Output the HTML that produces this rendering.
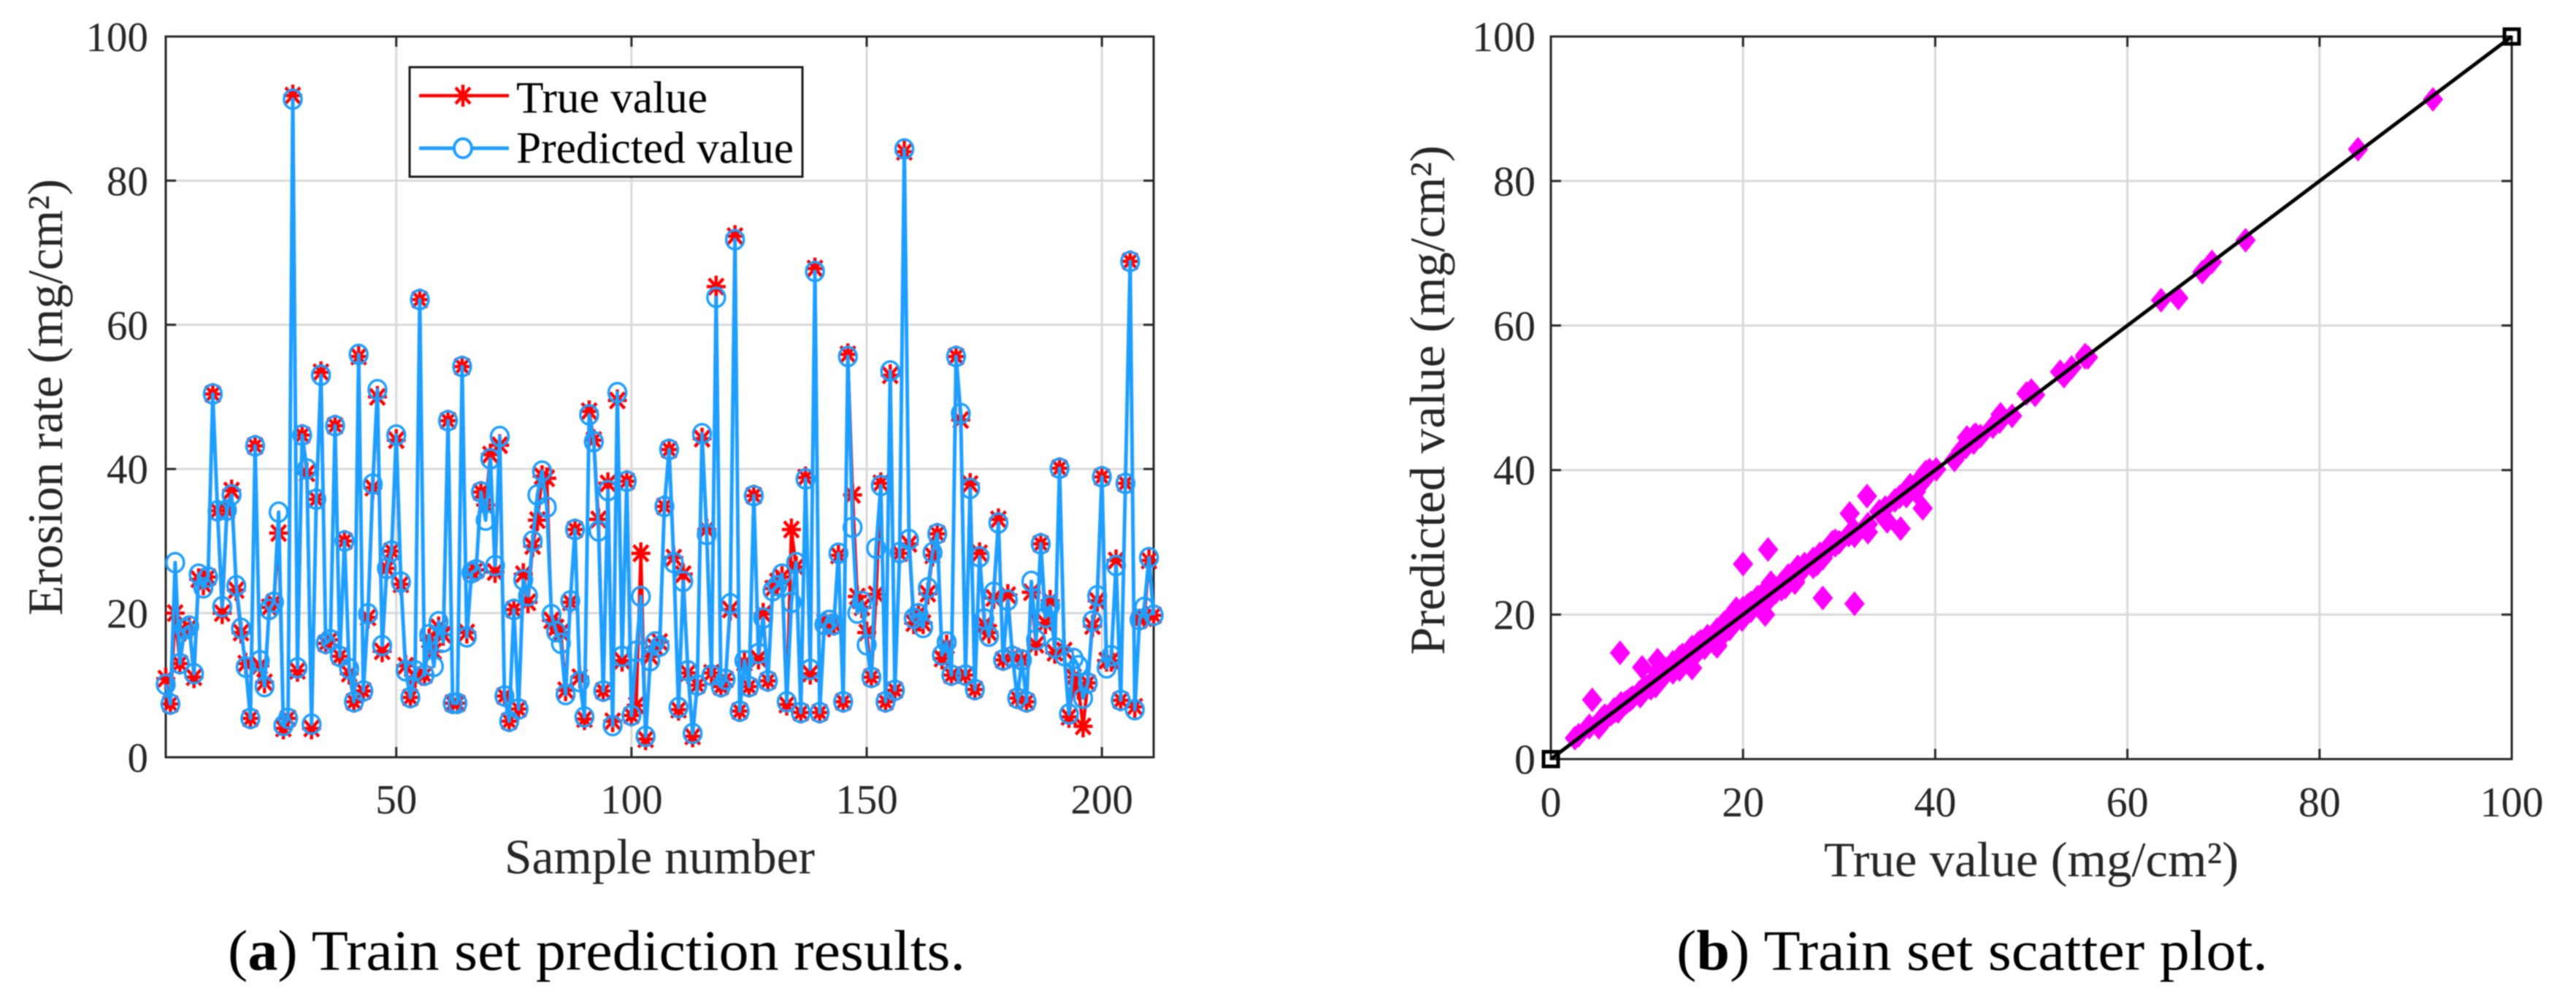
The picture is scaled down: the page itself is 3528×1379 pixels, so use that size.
<!DOCTYPE html>
<html>
<head>
<meta charset="utf-8">
<title>Train set prediction results and scatter plot</title>
<style>
html,body{margin:0;padding:0;background:#fff;}
svg{display:block;filter:blur(0.8px);}
text{font-family:"Liberation Serif",serif;}
.tick{font-size:57px;fill:#262626;}
.axt{font-size:68px;fill:#262626;}
.leg{font-size:61px;fill:#000;}
.cap{font-size:78px;fill:#000;}
</style>
</head>
<body>
<svg id="fig" xmlns="http://www.w3.org/2000/svg" width="3528" height="1379" viewBox="0 0 3528 1379">
  <rect x="0" y="0" width="3528" height="1379" fill="#fff"/>
  <g id="panelA"></g>
  <g id="panelB"></g>

  <g>
    <rect x="561" y="92" width="538" height="150" fill="#fff" stroke="#1a1a1a" stroke-width="3"/>
    <line x1="574" y1="131" x2="697" y2="131" stroke="#ff0000" stroke-width="4.5"/>
    <path d="M634 116V146M622 131H646M624 120L644 142M644 120L624 142" stroke="#ff0000" stroke-width="4.5" fill="none"/>
    <text class="leg" x="707" y="154" textLength="262" lengthAdjust="spacingAndGlyphs">True value</text>
    <line x1="574" y1="203" x2="697" y2="203" stroke="#1e9fff" stroke-width="5"/>
    <ellipse cx="634" cy="203" rx="12" ry="13" fill="#fff" stroke="#1e9fff" stroke-width="4"/>
    <text class="leg" x="707" y="223" textLength="380" lengthAdjust="spacingAndGlyphs">Predicted value</text>
  </g>

  <text class="axt" transform="translate(85,843) rotate(-90)" textLength="598" lengthAdjust="spacingAndGlyphs">Erosion rate (mg/cm²)</text>
  <text class="axt" x="691" y="1196" textLength="425" lengthAdjust="spacingAndGlyphs">Sample number</text>
  <text class="axt" transform="translate(1978,897) rotate(-90)" textLength="698" lengthAdjust="spacingAndGlyphs">Predicted value (mg/cm²)</text>
  <text class="axt" x="2498" y="1200" textLength="568" lengthAdjust="spacingAndGlyphs">True value (mg/cm²)</text>

  <text class="cap" x="312" y="1328" textLength="1010" lengthAdjust="spacingAndGlyphs">(<tspan font-weight="bold">a</tspan>) Train set prediction results.</text>
  <text class="cap" x="2296" y="1328" textLength="810" lengthAdjust="spacingAndGlyphs">(<tspan font-weight="bold">b</tspan>) Train set scatter plot.</text>
</svg>
<script>
// Chart data
var trueValues = [10.9,7.4,20,13,17.6,18,11.1,24.7,24,25,50.4,34.2,20,34.2,37,23.2,17.3,13,5.4,43.2,
12.7,10.4,20.8,21.5,31.1,4,5.4,91.8,12,44.7,39.4,4,35.8,53.4,15.8,16.3,46,14,30,11.6,
7.7,55.6,9.2,19.4,37.4,50,14.7,26.2,28.6,44,24,12.7,8.3,11.1,63.5,11.4,16.3,14.7,18,17,
46.7,7.5,7.5,54.2,17.3,25.6,26,36.8,35,42,25.7,43.3,8.5,5,20.5,6.7,25.4,21.5,29.3,32.9,
39,38.7,19,18,17.3,9.3,21.5,31.6,11.1,5.3,48,44,33,9.2,38,5,49.5,13.4,38.3,5.8,
7.2,28.3,2.5,14,15.3,16,34.8,42.7,27.7,6.6,25.4,11.7,2.9,10,44.2,31.6,11.7,65.3,9.8,10.8,
20.5,72.3,6.4,13.1,9.8,36.3,13.7,19.9,10.6,23.4,24.4,25,7.3,31.6,26.4,6.2,38.8,11.6,67.8,6.2,
18.7,18.2,18.4,28,7.7,55.9,36.4,22.3,20.8,17.3,11.1,22.6,38,7.7,53,9.3,28.3,84,29.6,18.6,
19.9,18.6,22.7,28,31,13.7,15.5,11.4,55.6,46.8,11.4,37.9,9.4,28.3,18.4,17.3,22.1,33,13.5,22.5,
14,8.2,13.5,7.7,22.9,15.6,29.6,18.6,21.7,14.5,40.1,14.8,5.6,11.1,9.5,4.3,10.3,18.2,21.7,38.9,
13.4,13.4,27.3,7.9,38,68.8,7,19.1,19.3,27.3,19.7];
var predictedValues = [10.1,7.4,27,13,17.8,18.2,11.6,25.4,23.5,25,50.4,34.2,20.9,34.3,36.4,23.8,17.9,12.5,5.4,43.2,
13.4,9.8,20.5,21.5,34,4.4,5.4,91.3,12.4,44.7,40,4.6,35.8,53,15.8,16.3,46,14,30,12.3,
7.7,55.9,9.2,19.9,37.9,51,15.5,26.2,28.6,44.7,24.3,12,8.3,12,63.5,11.4,17,12.6,18.8,16,
46.7,7.5,7.5,54.2,16.7,25.6,26,36.8,32.9,41.4,26.6,44.5,8.5,5,20.5,6.7,24.6,22.4,30,36.4,
39.7,34.7,19.8,17.4,15.8,8.7,21.7,31.6,10.5,5.6,47.5,43.8,31.4,9.2,37,4.4,50.6,14,38.3,5.8,
14.7,22.3,2.9,13.4,16,15.4,34.8,42.7,27,6.9,24.4,12,3.3,10,44.9,30.9,11.4,63.8,9.8,10.8,
21.3,71.8,6.4,13.4,9.8,36.3,14.4,19.3,10.6,23.1,23.8,25.4,7.7,21.5,27,6.2,38.6,12.2,67.4,6.2,
18.4,19,18.4,28.3,7.7,55.6,31.9,20,21.6,15.6,11.1,29,37.7,7.7,53.6,9.3,28.4,84.4,30.2,19.3,
19.9,18,23.5,28.4,31,14.2,16,11.4,55.6,47.7,11.4,37.3,9.4,27.8,19.2,16.8,22.9,32.5,13.5,21.8,
14,8.2,13.5,7.7,24.4,16.3,29.6,19.4,21,15.2,40.1,14.1,6,13.7,12.7,8.2,10.3,18.9,22.4,38.9,
12.4,14.1,26.6,7.9,38,68.8,6.6,19.1,20.8,27.7,19.7];
var xTicksLeft = [50,100,150,200];
var yTicksLeft = [0,20,40,60,80,100];
var xTicksRight = [0,20,40,60,80,100];
var yTicksRight = [0,20,40,60,80,100];
var diagonalEnds = [0,100];
var sampleStart = 1;
var sampleEnd = 211;

var NS = 'http://www.w3.org/2000/svg';
var panelA = document.getElementById('panelA');
var panelB = document.getElementById('panelB');

function mk(tag, attrs, parent) {
  var el = document.createElementNS(NS, tag);
  for (var k in attrs) { el.setAttribute(k, attrs[k]); }
  parent.appendChild(el);
  return el;
}

// axis functions
function axL(v) { return 227 + (v - sampleStart) * (1580 - 227) / (sampleEnd - sampleStart); }
function ayL(v) { return 1037 - v * (1037 - 50) / 100; }
function axR(v) { return 2124 + v * (3440 - 2124) / 100; }
function ayR(v) { return 1039.5 - v * (1039.5 - 50) / 100; }

function drawAxes(parent, L, T, R, B, xt, yt, fx, fy, xBase, yRight, fontSize) {
  var i, el;
  for (i = 0; i < yt.length; i++) {
    if (yt[i] > 0 && yt[i] < 100) {
      el = mk('line', {x1:L, x2:R, y1:fy(yt[i]), y2:fy(yt[i]), stroke:'#d9d9d9', 'stroke-width':3}, parent);
      
      
    }
  }
  for (i = 0; i < xt.length; i++) {
    if (xt[i] > 0 && xt[i] < 100 || xt.length === 4) {
      el = mk('line', {x1:fx(xt[i]), x2:fx(xt[i]), y1:T, y2:B, stroke:'#d9d9d9', 'stroke-width':3}, parent);
      
      
    }
  }
  el = mk('rect', {x:L, y:T, width:R-L, height:B-T, fill:'none', stroke:'#262626', 'stroke-width':3}, parent);
  
  
  for (i = 0; i < xt.length; i++) {
    el = mk('path', {d:'M'+fx(xt[i])+' '+B+'v-14M'+fx(xt[i])+' '+T+'v14', stroke:'#262626', 'stroke-width':3, fill:'none'}, parent);
    
    
    el = mk('text', {x:fx(xt[i]), y:xBase, 'text-anchor':'middle', 'class':'tick', style:'font-size:'+fontSize+'px'}, parent);
    el.textContent = xt[i];
    
    
  }
  for (i = 0; i < yt.length; i++) {
    el = mk('path', {d:'M'+L+' '+fy(yt[i])+'h14M'+R+' '+fy(yt[i])+'h-14', stroke:'#262626', 'stroke-width':3, fill:'none'}, parent);
    
    
    el = mk('text', {x:yRight, y:fy(yt[i]) + 20, 'text-anchor':'end', 'class':'tick', style:'font-size:'+fontSize+'px'}, parent);
    el.textContent = yt[i];
    
    
  }
}

drawAxes(panelA, 227, 50, 1580, 1037, xTicksLeft, yTicksLeft, axL, ayL, 1114, 203, 57);
drawAxes(panelB, 2124, 50, 3440, 1039.5, xTicksRight, yTicksRight, axR, ayR, 1118, 2103, 58);

// Panel A: lines and markers
function polyPts(vals) {
  var p = [];
  for (var i = 0; i < vals.length; i++) { p.push(axL(i + sampleStart).toFixed(1) + ',' + ayL(vals[i]).toFixed(1)); }
  return p.join(' ');
}
var trueLine = mk('polyline', {points:polyPts(trueValues), fill:'none', stroke:'#ff0000', 'stroke-width':4.5, 'stroke-linejoin':'round'}, panelA);


var starD = '';
for (var s = 0; s < trueValues.length; s++) {
  var sx = axL(s + sampleStart), sy = ayL(trueValues[s]);
  starD += 'M' + sx.toFixed(1) + ' ' + (sy - 15).toFixed(1) + 'v30M' + (sx - 13).toFixed(1) + ' ' + sy.toFixed(1) + 'h26M' +
    (sx - 10).toFixed(1) + ' ' + (sy - 11).toFixed(1) + 'l20 22M' + (sx + 10).toFixed(1) + ' ' + (sy - 11).toFixed(1) + 'l-20 22';
}
var starPath = mk('path', {d:starD, fill:'none', stroke:'#ff0000', 'stroke-width':4.5}, panelA);


var predLine = mk('polyline', {points:polyPts(predictedValues), fill:'none', stroke:'#1e9fff', 'stroke-width':5, 'stroke-linejoin':'round'}, panelA);


for (var c = 0; c < predictedValues.length; c++) {
  var circ = mk('ellipse', {cx:axL(c + sampleStart), cy:ayL(predictedValues[c]), rx:12, ry:13, fill:'none', stroke:'#1e9fff', 'stroke-width':3.5}, panelA);
  
  
}

// Panel B: scatter and diagonal
for (var d = 0; d < trueValues.length; d++) {
  var dx = axR(trueValues[d]), dy = ayR(predictedValues[d]);
  var dia = mk('polygon', {points:(dx-14)+','+dy+' '+dx+','+(dy-17)+' '+(dx+14)+','+dy+' '+dx+','+(dy+17), fill:'#ff00ff'}, panelB);
  
  
}
var diag = mk('line', {x1:axR(diagonalEnds[0]), y1:ayR(diagonalEnds[0]), x2:axR(diagonalEnds[1]), y2:ayR(diagonalEnds[1]), stroke:'#000', 'stroke-width':5}, panelB);


for (var e = 0; e < diagonalEnds.length; e++) {
  var sq = mk('rect', {x:axR(diagonalEnds[e]) - 10, y:ayR(diagonalEnds[e]) - 10, width:20, height:20, fill:'none', stroke:'#000', 'stroke-width':5}, panelB);
  
  
}
</script>
</body>
</html>
